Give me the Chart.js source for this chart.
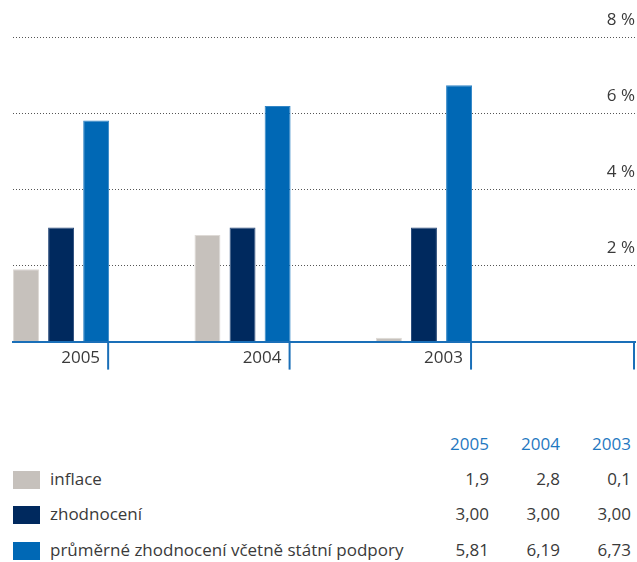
<!DOCTYPE html>
<html>
<head>
<meta charset="utf-8">
<script src="https://cdn.jsdelivr.net/npm/chart.js@4"></script>
<style>
  body { margin: 0; background: #fff; font-family: "Open Sans", sans-serif; color: #3a3a3a; }
  #wrap { position: relative; width: 637px; height: 562px; }
  #chart { position: absolute; left: 0; top: 0; width: 637px; height: 400px; }
  table { position: absolute; left: 13px; top: 426px; width: 618px; border-collapse: collapse; font-size: 17px; }
  td { padding: 0; height: 35px; white-space: nowrap; }
  tbody tr:last-child td { height: 37px; }
  td.v { text-align: right; width: 71px; }
  thead td.v { color: #1f78c1; }
  td.sw { width: 37px; }
  td.sw span { display: inline-block; width: 27px; height: 18px; vertical-align: middle; }
</style>
</head>
<body>
<div id="wrap">
  <div id="chart"><canvas></canvas></div>
  <table id="tbl"></table>
</div>
<script>
const years = ["2005", "2004", "2003"];
const inflace = [1.9, 2.8, 0.1];
const zhodnoceni = [3.0, 3.0, 3.0];
const prumerne = [5.81, 6.19, 6.73];
const seriesNames = ["inflace", "zhodnocení", "průměrné zhodnocení včetně státní podpory"];
const seriesColors = ["#c6c1bc", "#00295e", "#0068b5"];
const seriesBorders = ["#dedad6", "#2c4d7c", "#3286c6"];
const seriesDecimals = [1, 2, 2];
const yTicks = [0, 2, 4, 6, 8];

const axisBlue = "#1a6fb8";
const series = [inflace, zhodnoceni, prumerne];

// tick marks under the x axis: right edge of each bar group, plus the end of the axis
const groupTicks = {
  id: "groupTicks",
  afterDraw(chart) {
    const { ctx, chartArea } = chart;
    const meta = chart.getDatasetMeta(series.length - 1);
    const xs = meta.data.map((bar) => bar.x + bar.width / 2 - 1);
    xs.push(chartArea.right - 1);
    ctx.save();
    ctx.strokeStyle = axisBlue;
    ctx.lineWidth = 2;
    xs.forEach((x) => {
      ctx.beginPath();
      ctx.moveTo(x, chartArea.bottom);
      ctx.lineTo(x, chartArea.bottom + 28);
      ctx.stroke();
    });
    ctx.restore();
  },
};

const ctx = document.querySelector("#chart canvas").getContext("2d");
new Chart(ctx, {
  type: "bar",
  data: {
    datasets: series.map((data, i) => ({
      label: seriesNames[i],
      data: data.map((y, x) => ({ x, y })),
      backgroundColor: seriesColors[i],
      borderColor: seriesBorders[i],
      borderWidth: 1,
      categoryPercentage: 0.58,
      barPercentage: 0.74,
    })),
  },
  plugins: [groupTicks],
  options: {
    animation: false,
    responsive: true,
    maintainAspectRatio: false,
    layout: { padding: { left: 13, right: 2, top: 37, bottom: 26 } },
    plugins: {
      legend: { display: false },
      tooltip: { enabled: false },
    },
    scales: {
      x: {
        type: "linear",
        offset: false,
        min: -0.265,
        max: 3.163,
        afterBuildTicks: (scale) => {
          scale.ticks = years.map((_, i) => ({ value: i }));
        },
        grid: { offset: false, drawOnChartArea: false, drawTicks: false },
        border: { color: axisBlue, width: 2 },
        ticks: {
          callback: (v, i) => years[i],
          align: "end",
          labelOffset: 39,
          padding: 6,
          color: "#3a3a3a",
          font: { family: "Open Sans", size: 17 },
          autoSkip: false,
          maxRotation: 0,
        },
      },
      y: {
        position: "right",
        min: 0,
        max: 8,
        afterBuildTicks: (scale) => {
          scale.ticks = yTicks.map((value) => ({ value }));
        },
        // in v4 border.dash is the dash of the grid lines
        border: { display: false, dash: [1, 2] },
        grid: {
          drawTicks: false,
          color: (c) => (c.tick && c.tick.value === 0 ? "rgba(0,0,0,0)" : "#555"),
          lineWidth: 1,
        },
        ticks: {
          mirror: true,
          padding: 0,
          labelOffset: -17,
          color: "#3a3a3a",
          font: { family: "Open Sans", size: 17 },
          callback: (v) => (v === 0 ? "" : v + " %"),
        },
      },
    },
  },
});

const fmt = (v, d) => v.toFixed(d).replace(".", ",");
const tbl = document.getElementById("tbl");
tbl.innerHTML =
  "<thead><tr><td class='sw'></td><td></td>" +
  years.map((y) => `<td class='v'>${y}</td>`).join("") +
  "</tr></thead><tbody>" +
  series
    .map(
      (data, i) =>
        `<tr><td class='sw'><span style='background:${seriesColors[i]}'></span></td><td>${seriesNames[i]}</td>` +
        data.map((v) => `<td class='v'>${fmt(v, seriesDecimals[i])}</td>`).join("") +
        "</tr>"
    )
    .join("") +
  "</tbody>";
</script>
</body>
</html>
